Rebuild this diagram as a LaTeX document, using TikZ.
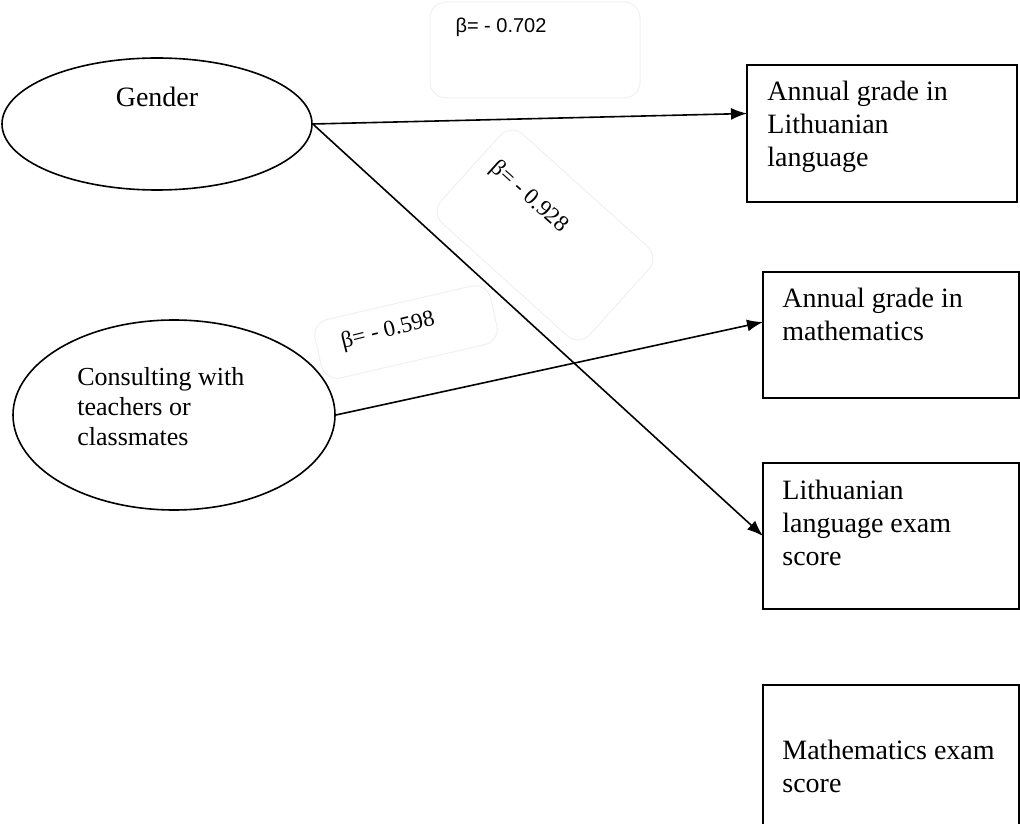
\documentclass[tikz,border=0pt]{standalone}
\usepackage{fontspec}
\setmainfont{Liberation Serif}
\newfontfamily\labelsans{Liberation Sans}
\usetikzlibrary{shapes.geometric,arrows.meta}

\tikzset{
    factor/.style={draw, ellipse, line width=0.8pt, inner sep=0pt},
    outcome/.style={draw, rectangle, line width=0.8pt, inner sep=0pt, outer sep=0pt, anchor=north west},
    boxtext/.style={anchor=north west, inner sep=0pt, align=left, font=\fontsize{14}{16.5}\selectfont},
    coef/.style={inner sep=0pt, font=\fontsize{11.5}{13}\selectfont},
    coefbox/.style={draw=black!6, rounded corners=8pt, line width=0.5pt}
}

\begin{document}
\begin{tikzpicture}[x=0.5pt, y=-0.5pt, >={Latex[length=8pt,width=6pt]}]
        \useasboundingbox (0,0) rectangle (1020,823);
        % faint label frames
        \path[coefbox] (430,2) rectangle (640,98);
        \path[coefbox, rotate around={-42:(545,235)}] (445,175) rectangle (645,295);
        \path[coefbox, rotate around={13:(406,332)}] (316,302) rectangle (496,362);
        % predictors
        \node[factor, minimum width=155pt, minimum height=66pt] (gender) at (157,124) {};
        \node[font=\fontsize{14}{16}\selectfont] (gendertxt) at (157,97) {Gender};
        \node[factor, minimum width=161pt, minimum height=95pt] (cons) at (174,415) {};
        \node[anchor=north west, inner sep=0pt, align=left, font=\fontsize{13}{15}\selectfont] (constxt) at (77,367)
            {Consulting with\\teachers or\\classmates};
        % outcomes
        \node[outcome, minimum width=135pt, minimum height=68.5pt] (lang) at (747,65) {};
        \node[boxtext] (langtxt) at (767,81) {Annual grade in\\Lithuanian\\language};
        \node[outcome, minimum width=128pt, minimum height=63pt] (math) at (763,272) {};
        \node[boxtext] (mathtxt) at (782,288) {Annual grade in\\mathematics};
        \node[outcome, minimum width=128pt, minimum height=73pt] (lexam) at (763,463) {};
        \node[boxtext] (lexamtxt) at (782,480) {Lithuanian\\language exam\\score};
        \node[outcome, minimum width=128pt, minimum height=100pt] (mexam) at (763,685) {};
        \node[boxtext] (mexamtxt) at (782,740) {Mathematics exam\\score};
        % paths
        \draw[->, line width=0.8pt] (gender.east) -- ([yshift=10pt]lang.west);
        \draw[->, line width=0.8pt] (gender.east) -- (lexam.west);
        \draw[->, line width=0.8pt] (cons.east) -- ([yshift=6.5pt]math.west);
        % coefficients
        \node[coef, font=\labelsans\fontsize{10}{12}\selectfont] (b1) at (501,27) {β= - 0.702};
        \node[coef, rotate=-42] (b2) at (529,197) {β= - 0.928};
        \node[coef, rotate=14] (b3) at (388,331) {β= - 0.598};
    \end{tikzpicture}
\end{document}
